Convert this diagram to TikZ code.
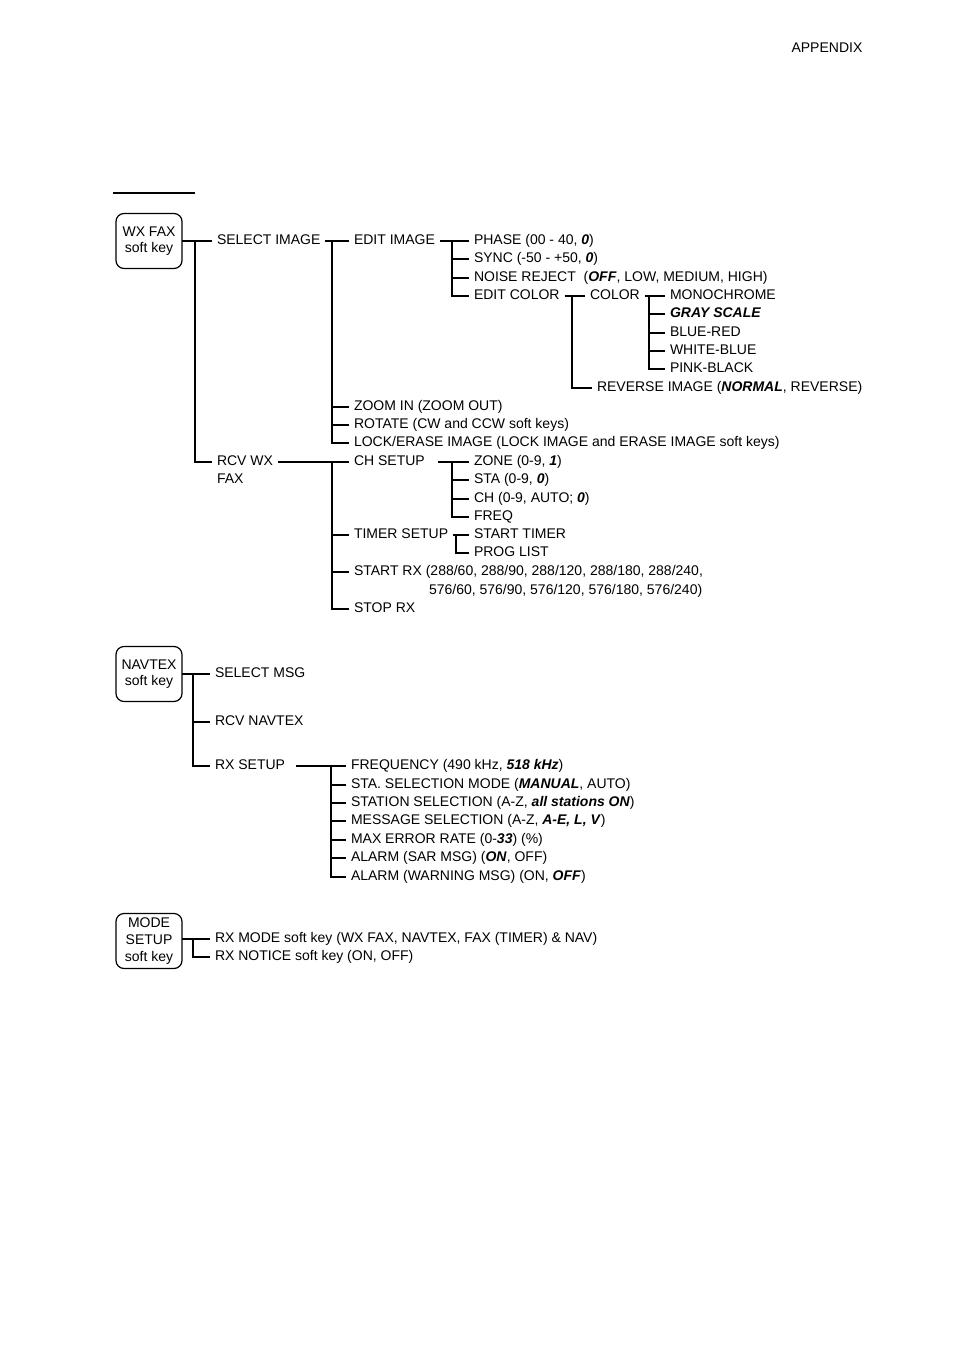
\documentclass[tikz,border=0pt]{standalone}
\usepackage{fontspec}
\setmainfont{Liberation Sans}
\newcommand{\bi}[1]{\textbf{\textit{#1}}}
\begin{document}
\begin{tikzpicture}[x=1pt,y=-1pt,font=\fontsize{14}{16}\selectfont,
  lbl/.style={anchor=west,inner sep=0pt,outer xsep=5pt,text height=10pt,text depth=3pt},
  key/.style={draw,rounded corners=8pt,minimum width=66pt,minimum height=55pt,align=center,inner sep=1pt,outer sep=0pt,line width=1.2pt},
  every path/.style={line width=1.3pt}]
\useasboundingbox (0,0) rectangle (954,1351);
\node[anchor=east,inner sep=0pt] (app) at (863,48) {APPENDIX};
\coordinate (ul1) at (113,193); \coordinate (ul2) at (195,193);
\draw[line width=2pt] (ul1) -- (ul2);
% WX FAX
\node[key] (wx) at (149,241) {WX FAX\\soft key};
\node[lbl] (sel) at (212,241) {SELECT IMAGE};
\node[lbl] (rcv) at (212,462) {RCV WX};
\node[lbl] (fax) at (212,480) {FAX};
\draw (wx.east) -- (sel.west);
\draw (195,241) |- (rcv.west);
\node[lbl] (edit) at (349,241) {EDIT IMAGE};
\node[lbl] (zoom) at (349,407) {ZOOM IN (ZOOM OUT)};
\node[lbl] (rot) at (349,425) {ROTATE (CW and CCW soft keys)};
\node[lbl] (lock) at (349,443) {LOCK/ERASE IMAGE (LOCK IMAGE and ERASE IMAGE soft keys)};
\draw (sel.east) -- (edit.west);
\draw (332,241) |- (lock.west);
\draw (332,407) -- (zoom.west); \draw (332,425) -- (rot.west);
\node[lbl] (ph) at (469,241) {PHASE (00 - 40, \bi{0})};
\node[lbl] (sy) at (469,259) {SYNC (-50 - +50, \bi{0})};
\node[lbl] (nr) at (469,278) {NOISE REJECT\ \ (\bi{OFF}, LOW, MEDIUM, HIGH)};
\node[lbl] (ec) at (469,296) {EDIT COLOR};
\draw (edit.east) -- (ph.west);
\draw (452,241) |- (ec.west);
\draw (452,259) -- (sy.west); \draw (452,278) -- (nr.west);
\node[lbl] (col) at (585,296) {COLOR};
\node[lbl] (rev) at (592,388) {REVERSE IMAGE (\bi{NORMAL}, REVERSE)};
\draw (ec.east) -- (col.west);
\draw (572,296) |- (rev.west);
\node[lbl] (mono) at (665,296) {MONOCHROME};
\node[lbl] (gray) at (665,314) {\bi{GRAY SCALE}};
\node[lbl] (br) at (665,333) {BLUE-RED};
\node[lbl] (wb) at (665,351) {WHITE-BLUE};
\node[lbl] (pb) at (665,369) {PINK-BLACK};
\draw (col.east) -- (mono.west);
\draw (649,296) |- (pb.west);
\draw (649,314) -- (gray.west); \draw (649,333) -- (br.west); \draw (649,351) -- (wb.west);
\node[lbl] (chs) at (349,462) {CH SETUP};
\node[lbl] (tim) at (349,535) {TIMER SETUP};
\node[lbl] (srx) at (349,572) {START RX (288/60, 288/90, 288/120, 288/180, 288/240,};
\node[lbl] (srx2) at (424,591) {576/60, 576/90, 576/120, 576/180, 576/240)};
\node[lbl] (stop) at (349,609) {STOP RX};
\draw (rcv.east) -- (chs.west);
\draw (332,462) |- (stop.west);
\draw (332,535) -- (tim.west); \draw (332,572) -- (srx.west);
\node[lbl] (zone) at (469,462) {ZONE (0-9, \bi{1})};
\node[lbl] (sta) at (469,480) {STA (0-9, \bi{0})};
\node[lbl] (ch) at (469,499) {CH (0-9, AUTO; \bi{0})};
\node[lbl] (freq) at (469,517) {FREQ};
\draw (chs.east) ++(8,0) -- (zone.west);
\draw (452,462) |- (freq.west);
\draw (452,480) -- (sta.west); \draw (452,499) -- (ch.west);
\node[lbl] (st) at (469,535) {START TIMER};
\node[lbl] (pl) at (469,553) {PROG LIST};
\draw (tim.east) -- (st.west);
\draw (456,535) |- (pl.west);
% NAVTEX
\node[key] (nav) at (149,674) {NAVTEX\\soft key};
\node[lbl] (smsg) at (210,674) {SELECT MSG};
\node[lbl] (rnav) at (210,722) {RCV NAVTEX};
\node[lbl] (rxs) at (210,766) {RX SETUP};
\draw (nav.east) -- (smsg.west);
\draw (193,674) |- (rxs.west);
\draw (193,722) -- (rnav.west);
\node[lbl] (f1) at (346,766) {FREQUENCY (490 kHz, \bi{518 kHz})};
\node[lbl] (f2) at (346,785) {STA. SELECTION MODE (\bi{MANUAL}, AUTO)};
\node[lbl] (f3) at (346,803) {STATION SELECTION (A-Z, \bi{all stations ON})};
\node[lbl] (f4) at (346,821) {MESSAGE SELECTION (A-Z, \bi{A-E, L, V})};
\node[lbl] (f5) at (346,840) {MAX ERROR RATE (0-\bi{33}) (\%)};
\node[lbl] (f6) at (346,858) {ALARM (SAR MSG) (\bi{ON}, OFF)};
\node[lbl] (f7) at (346,877) {ALARM (WARNING MSG) (ON, \bi{OFF})};
\draw (rxs.east) ++(6,0) -- (f1.west);
\draw (331,766) |- (f7.west);
\foreach \n/\y in {f2/785,f3/803,f4/821,f5/840,f6/858} \draw (331,\y) -- (\n.west);
% MODE SETUP
\node[key,align=center] (mode) at (149,941) {MODE\\[1pt]SETUP\\[1pt]soft key};
\node[lbl] (m1) at (210,939) {RX MODE soft key (WX FAX, NAVTEX, FAX (TIMER) \& NAV)};
\node[lbl] (m2) at (210,957) {RX NOTICE soft key (ON, OFF)};
\draw (mode.east |- m1.west) -- (m1.west);
\draw (193,939) |- (m2.west);
\end{tikzpicture}
\end{document}
